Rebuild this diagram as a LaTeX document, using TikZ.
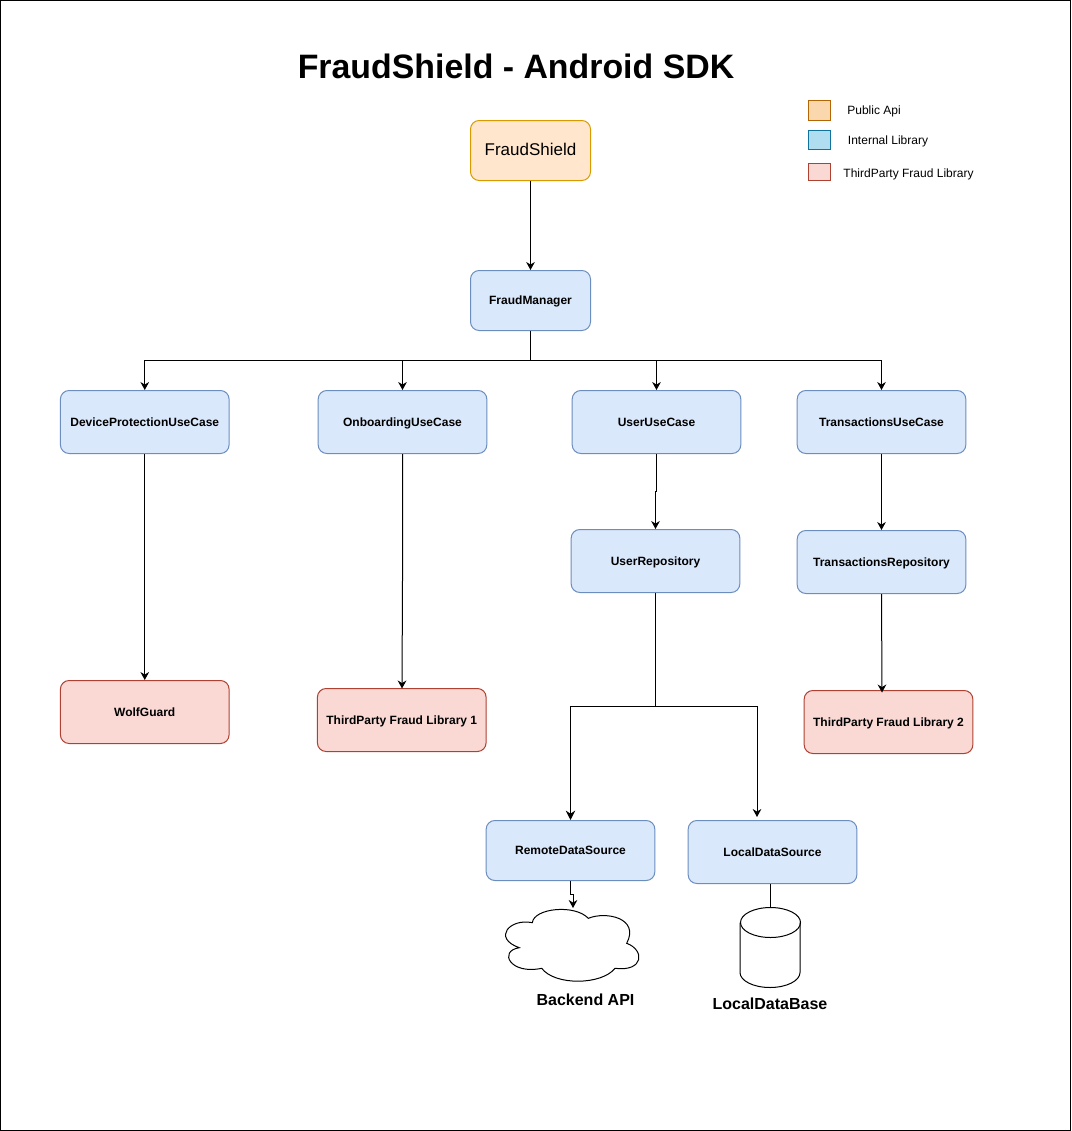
\documentclass[tikz,border=0pt]{standalone}
\usepackage{fontspec}
\setmainfont{Liberation Sans}
\usetikzlibrary{arrows.meta, positioning, calc}
\definecolor{blueFill}{HTML}{DAE8FC}
\definecolor{blueLine}{HTML}{6C8EBF}
\definecolor{orangeFill}{HTML}{FFE6CC}
\definecolor{orangeLine}{HTML}{D79B00}
\definecolor{redFill}{HTML}{FAD9D5}
\definecolor{redLine}{HTML}{AE4132}
\definecolor{keyOrange}{HTML}{FAD7AC}
\definecolor{keyOrangeLine}{HTML}{B46504}
\definecolor{keyBlue}{HTML}{B1DDF0}
\definecolor{keyBlueLine}{HTML}{10739E}

\begin{document}
\begin{tikzpicture}[x=0.75pt, y=-0.75pt, line width=0.75pt,
    >={Stealth[length=6pt, width=6.5pt]},
    box/.style={draw, rounded corners=6.5pt, align=center, inner sep=0pt,
        font=\fontsize{9}{11}\selectfont\bfseries, text height=7.7pt, text depth=1.5pt,
        minimum width=126.5pt, minimum height=47.25pt},
    internal/.style={box, fill=blueFill, draw=blueLine},
    thirdparty/.style={box, fill=redFill, draw=redLine},
    keybox/.style={draw, inner sep=0pt, minimum width=16.5pt},
    keytext/.style={font=\fontsize{9}{11}\selectfont, inner sep=0pt, text height=7.7pt, text depth=1.5pt},
    store/.style={font=\fontsize{12}{14}\selectfont\bfseries, inner sep=0pt}]
    \useasboundingbox (0,0) rectangle (1071,1131);
    \node[draw=black, inner sep=0pt, minimum width=802.5pt, minimum height=847.5pt] (frame) at (535.5,565.5) {};

    \node[font=\fontsize{25.4}{30}\selectfont\bfseries, inner sep=0pt] (title) at (516,66) {FraudShield - Android SDK};

    % legend
    \node[keybox, fill=keyOrange, draw=keyOrangeLine, minimum height=15.4pt] (keypublic) at (819,110.5) {};
    \node[keybox, fill=keyBlue, draw=keyBlueLine, minimum height=14.6pt] (keyinternal) at (819,140.25) {};
    \node[keybox, fill=redFill, draw=redLine, minimum height=13pt] (keythird) at (819,171.75) {};
    \node[keytext] (textpublic) at (874,110) {Public Api};
    \node[keytext] (textinternal) at (888,140) {Internal Library};
    \node[keytext] (textthird) at (908.5,173) {ThirdParty Fraud Library};

    \node[box, fill=orangeFill, draw=orangeLine, font=\fontsize{12.75}{15}\selectfont,
        text height=9.5pt, text depth=2.5pt,
        minimum width=90pt, minimum height=45pt] (shield) at (530.5,150.5) {FraudShield};
    \node[internal, minimum width=90pt, minimum height=45pt] (manager) at (530.5,300.5) {FraudManager};

    \node[internal] (device) at (144.75,422) {DeviceProtectionUseCase};
    \node[internal] (onboarding) at (402.5,422) {OnboardingUseCase};
    \node[internal] (user) at (656.5,422) {UserUseCase};
    \node[internal] (transactions) at (881.5,422) {TransactionsUseCase};

    \node[internal] (userrepo) at (655.5,561) {UserRepository};
    \node[internal] (transrepo) at (881.5,562) {TransactionsRepository};

    \node[thirdparty] (wolf) at (144.75,712) {WolfGuard};
    \node[thirdparty] (libone) at (401.75,720) {ThirdParty Fraud Library 1};
    \node[thirdparty] (libtwo) at (888.5,722) {ThirdParty Fraud Library 2};

    \node[internal, minimum height=45pt] (remote) at (570.5,850.5) {RemoteDataSource};
    \node[internal] (local) at (772.5,852) {LocalDataSource};

    % cloud outline
    \draw (532.3,922.7) .. controls (534,908) and (575,904) .. (588.3,918.3)
        .. controls (606,911) and (640,918) .. (626.7,943.3)
        .. controls (645,950) and (644,972) .. (615,968.3)
        .. controls (602,985) and (555,986) .. (541.7,968.3)
        .. controls (510,975) and (498,951) .. (519.3,947.7)
        .. controls (492,938) and (510,918) .. (532.3,922.7) -- cycle;
    \node[store] (backend) at (585.5,1000) {Backend API};

    % database drum
    \node[inner sep=0pt, minimum width=45pt, minimum height=60pt] (database) at (770.5,948) {};
    \draw ($(database.north)+(0,15)$) ellipse [x radius=30, y radius=15];
    \draw ($(database.north west)+(0,15)$) -- ++(0,50)
        arc [start angle=180, end angle=0, x radius=30, y radius=15] -- ++(0,-50);
    \node[store] (dbname) at (770,1004) {LocalDataBase};

    \coordinate (cloudtop) at (573,908);
    \coordinate (localtip) at (757,817);
    \coordinate (libonetip) at (402,688.5);
    \coordinate (libtwotip) at (882,692.5);

    \draw[->] (shield) -- (manager);
    \draw[->] (manager.south) |- (144.75,360.5) -- (device.north);
    \draw[->] (manager.south) |- (402.5,360.5) -- (onboarding.north);
    \draw[->] (manager.south) |- (656.5,360.5) -- (user.north);
    \draw[->] (manager.south) |- (881.5,360.5) -- (transactions.north);

    \draw[->] (device) -- (wolf);
    \draw[->] (onboarding.south) -- (402.5,580) -- (libonetip);
    \draw[->] (user.south) -- (656.5,491) -- (655.5,491) -- (userrepo.north);
    \draw[->] (transactions) -- (transrepo);
    \draw[->] (transrepo.south) -- (libtwotip);

    \draw[-{Stealth[length=7pt, width=7pt]}, line width=1pt] (userrepo.south) |- (570.5,706.5) -- (remote.north);
    \draw[->] (userrepo.south) |- (757,706.5) -- (localtip);
    \draw[->] (remote.south) -- (570.5,894) -| (cloudtop);
    \draw (local.south -| database.north) -- (database.north);
\end{tikzpicture}
\end{document}
